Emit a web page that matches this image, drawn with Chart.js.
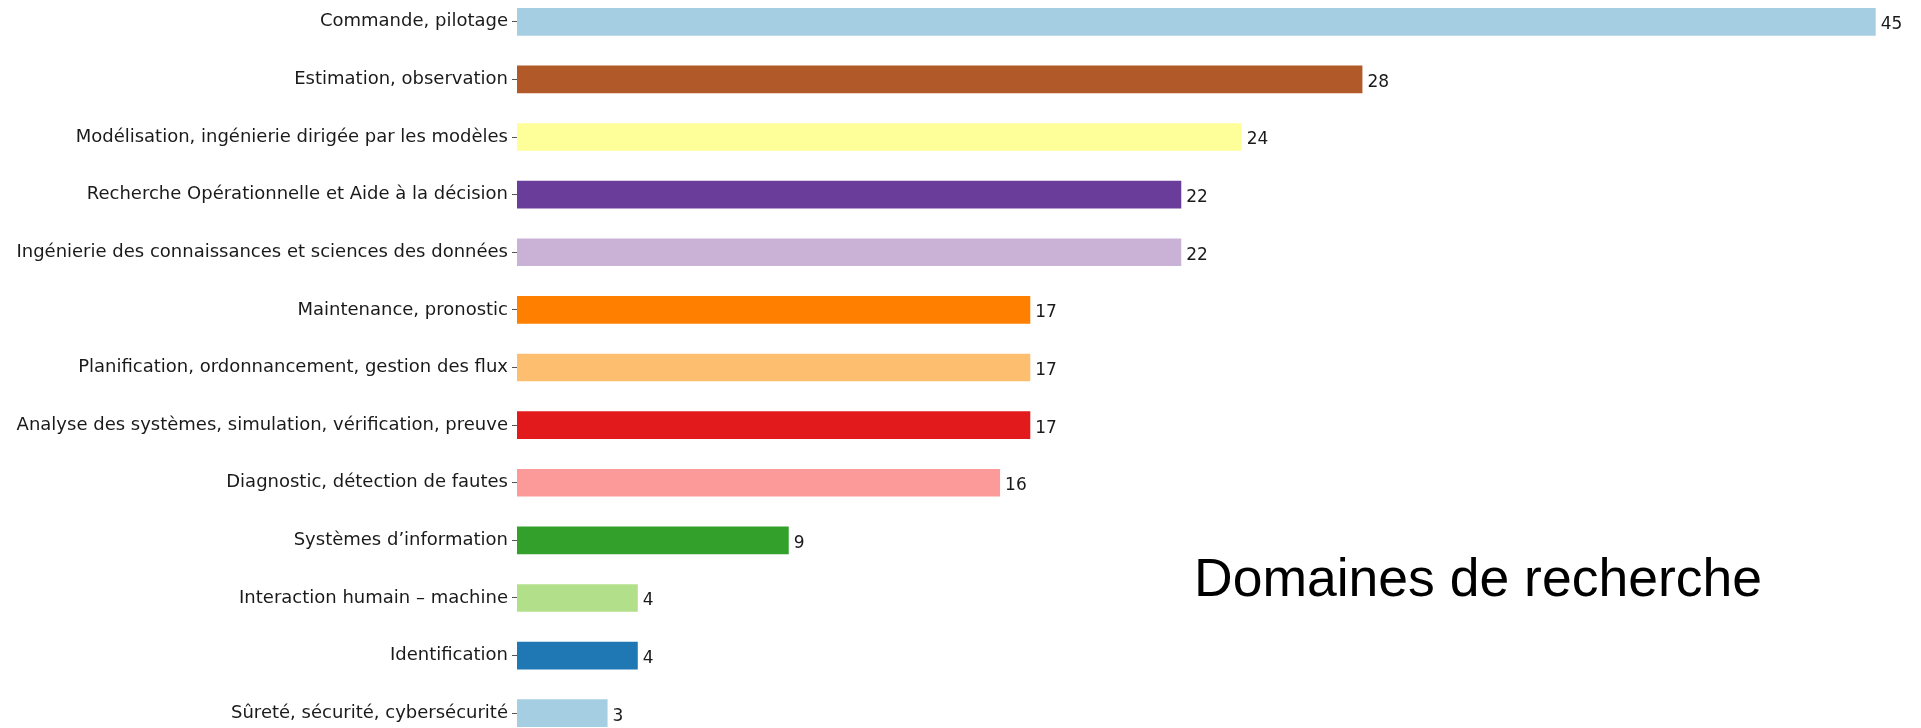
<!DOCTYPE html>
<html>
<head>
<meta charset="utf-8">
<script src="https://cdn.jsdelivr.net/npm/chart.js@4/dist/chart.umd.min.js"></script>
<style>
    html, body { margin: 0; padding: 0; background: #fff; overflow: hidden; }
    #wrap { position: relative; width: 1921px; height: 728px; overflow: hidden; }
    #chart { position: absolute; left: 0; top: -7px; }
    #title {
        position: absolute; left: 1194px; top: 547px;
        font-family: "Liberation Sans", Arial, sans-serif; font-size: 53.5px;
        color: #000; white-space: nowrap;
    }
</style>
</head>
<body>
<div id="wrap">
    <canvas id="chart" width="1921" height="749"></canvas>
    <div id="title">Domaines de recherche</div>
</div>
<script>
const categories = [
    'Commande, pilotage',
    'Estimation, observation',
    'Modélisation, ingénierie dirigée par les modèles',
    'Recherche Opérationnelle et Aide à la décision',
    'Ingénierie des connaissances et sciences des données',
    'Maintenance, pronostic',
    'Planification, ordonnancement, gestion des flux',
    'Analyse des systèmes, simulation, vérification, preuve',
    'Diagnostic, détection de fautes',
    'Systèmes d’information',
    'Interaction humain – machine',
    'Identification',
    'Sûreté, sécurité, cybersécurité'
];
const counts = [45, 28, 24, 22, 22, 17, 17, 17, 16, 9, 4, 4, 3];
const barColors = [
    '#a6cee3', '#b15928', '#ffff99', '#6a3d9a', '#cab2d6', '#ff7f00', '#fdbf6f',
    '#e31a1c', '#fb9a99', '#33a02c', '#b2df8a', '#1f78b4', '#a6cee3'
];

// write the count just right of each bar
const valueLabels = {
    id: 'valueLabels',
    afterDatasetsDraw(chart) {
        const ctx = chart.ctx;
        ctx.save();
        ctx.font = '17px "DejaVu Sans", sans-serif';
        ctx.fillStyle = '#1a1a1a';
        ctx.textBaseline = 'middle';
        chart.getDatasetMeta(0).data.forEach((bar, i) => {
            ctx.fillText(counts[i], bar.x + 5, bar.y + 3);
        });
        ctx.restore();
    }
};

new Chart(document.getElementById('chart').getContext('2d'), {
    type: 'bar',
    data: {
        labels: categories,
        datasets: [{
            data: counts,
            backgroundColor: barColors,
            borderWidth: 0,
            categoryPercentage: 1.0,
            barPercentage: 0.48
        }]
    },
    options: {
        indexAxis: 'y',
        responsive: false,
        animation: false,
        devicePixelRatio: 1,
        layout: { padding: 0 },
        plugins: {
            legend: { display: false },
            tooltip: { enabled: false }
        },
        scales: {
            x: {
                display: false,
                min: 0,
                max: 46.5
            },
            y: {
                border: { display: false },
                grid: {
                    offset: false,
                    drawOnChartArea: false,
                    drawTicks: true,
                    tickLength: 5,
                    color: '#555'
                },
                ticks: {
                    color: '#1a1a1a',
                    padding: 4,
                    font: { family: '"DejaVu Sans", sans-serif', size: 18 }
                },
                afterFit(scale) {
                    scale.width = 517;
                    scale.paddingTop = 0;
                    scale.paddingBottom = 0;
                }
            }
        }
    },
    plugins: [valueLabels]
});
</script>
</body>
</html>
